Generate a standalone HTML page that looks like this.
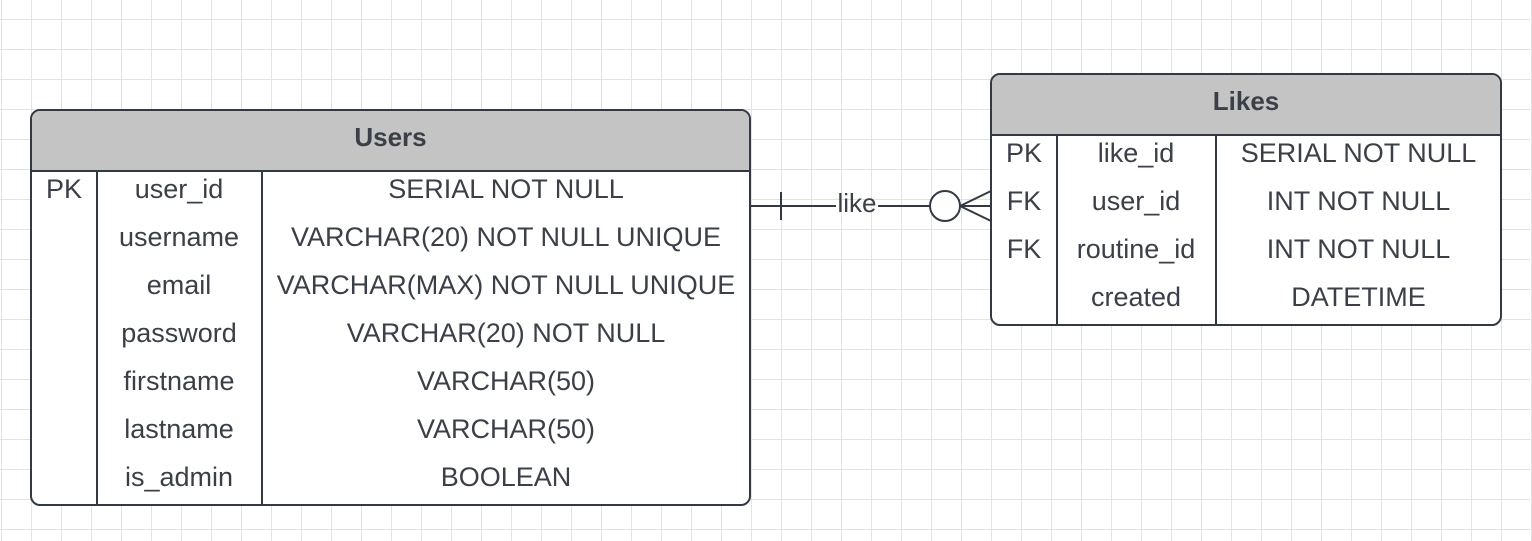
<!DOCTYPE html>
<html><head><style>
body{margin:0;width:1532px;height:541px;overflow:hidden;background:#fff;
background-image:linear-gradient(#e3e3e3 1px,transparent 1px),linear-gradient(90deg,#e3e3e3 1px,transparent 1px);
background-size:30px 30px;background-position:1px 19px;font-family:"Liberation Sans",sans-serif;color:#3b3f48;}
.t{position:absolute;border:2px solid #333942;border-radius:10px;background:#fff;overflow:hidden;box-sizing:border-box;}
.h{background:#c4c4c4;border-bottom:2px solid #333942;font-weight:bold;font-size:26px;text-align:center;box-sizing:border-box;}
.c{position:absolute;top:0;bottom:0;border-left:2px solid #333942;}
.r{position:absolute;font-size:27px;text-align:center;white-space:nowrap;}
</style></head><body>
<div class="t" style="left:30px;top:109px;width:721px;height:397px">
 <div class="h" style="height:61px;line-height:52px">Users</div>
 <div style="position:absolute;left:0;right:0;top:61px;bottom:0">
  <div class="c" style="left:64px"></div><div class="c" style="left:229px"></div>
 </div>
</div>
<div class="t" style="left:990px;top:73px;width:512px;height:253px">
 <div class="h" style="height:61px;line-height:52px">Likes</div>
 <div style="position:absolute;left:0;right:0;top:61px;bottom:0">
  <div class="c" style="left:64px"></div><div class="c" style="left:223px"></div>
 </div>
</div>
<script>
function row(x,w,y,t){var d=document.createElement('div');d.className='r';d.style.left=x+'px';d.style.width=w+'px';d.style.top=(y-16)+'px';d.textContent=t;document.body.appendChild(d);}
var U=[["PK","user_id","SERIAL NOT NULL"],["","username","VARCHAR(20) NOT NULL UNIQUE"],["","email","VARCHAR(MAX) NOT NULL UNIQUE"],["","password","VARCHAR(20) NOT NULL"],["","firstname","VARCHAR(50)"],["","lastname","VARCHAR(50)"],["","is_admin","BOOLEAN"]];
U.forEach(function(r,i){var y=190+48*i;row(32,64,y,r[0]);row(97,164,y,r[1]);row(262,488,y,r[2]);});
var L=[["PK","like_id","SERIAL NOT NULL"],["FK","user_id","INT NOT NULL"],["FK","routine_id","INT NOT NULL"],["","created","DATETIME"]];
L.forEach(function(r,i){var y=154+48*i;row(992,64,y,r[0]);row(1057,158,y,r[1]);row(1216,285,y,r[2]);});
</script>
<svg style="position:absolute;left:0;top:0" width="1532" height="541">
<g stroke="#333942" stroke-width="2" fill="none">
<line x1="751" y1="206" x2="836" y2="206"/>
<line x1="878" y1="206" x2="930" y2="206"/>
<line x1="781" y1="192" x2="781" y2="220"/>
<circle cx="945" cy="206" r="15" fill="#fff"/>
<line x1="960" y1="206" x2="991" y2="206"/>
<line x1="960" y1="206" x2="991" y2="191"/>
<line x1="960" y1="206" x2="991" y2="221"/>
</g>
<text x="857" y="212" font-family="Liberation Sans, sans-serif" font-size="26" fill="#3b3f48" text-anchor="middle">like</text>
</svg>
</body></html>
